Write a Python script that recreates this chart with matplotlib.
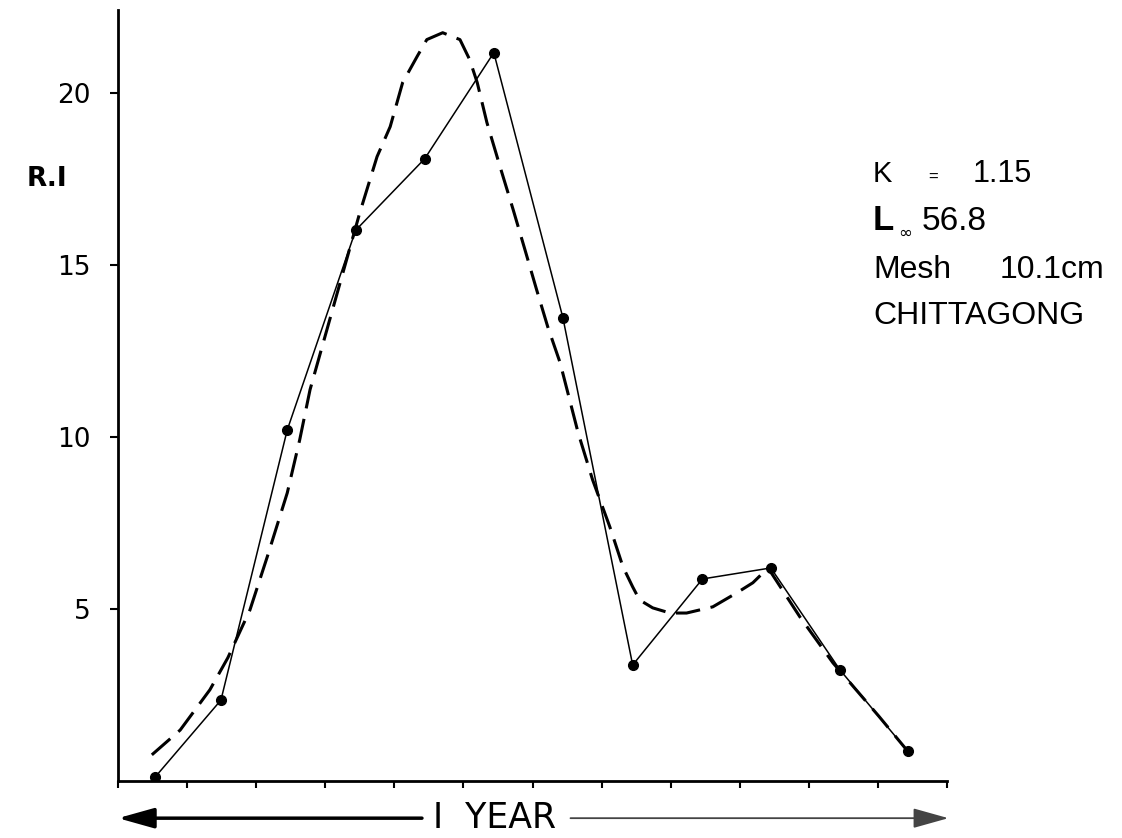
import matplotlib
matplotlib.use("Agg")
import matplotlib.pyplot as plt

# observed R.I values (one per month)
month_x = [0.54, 1.49, 2.45, 3.44, 4.44, 5.44, 6.44, 7.45, 8.46, 9.45, 10.45, 11.43]
ri_obs = [0.12, 2.35, 10.2, 16.0, 18.08, 21.16, 13.46, 3.37, 5.87, 6.19, 3.23, 0.87]

# fitted curve
fit_x = [0.49, 0.90, 1.33, 1.59, 1.91, 2.16, 2.45, 2.63, 2.78, 3.50, 3.75, 3.94,
         4.12, 4.33, 4.47, 4.70, 4.95, 5.09, 5.20, 5.34, 5.53, 5.72, 5.89, 6.06,
         6.22, 6.40, 6.66, 6.87, 7.12, 7.31, 7.45, 7.55, 7.74, 7.99, 8.23, 8.61,
         8.96, 9.19, 9.41, 9.87, 10.35, 11.01, 11.43]
fit_y = [0.76, 1.48, 2.65, 3.58, 4.97, 6.51, 8.37, 9.91, 11.37, 16.51, 18.14, 19.01,
         20.29, 21.05, 21.54, 21.74, 21.54, 20.96, 20.29, 19.13, 17.85, 16.60, 15.44, 14.27,
         13.20, 12.15, 10.12, 8.75, 7.38, 6.22, 5.64, 5.26, 5.03, 4.88, 4.88, 5.06,
         5.47, 5.76, 6.19, 4.77, 3.43, 1.89, 0.87]

y_ticks = [5, 10, 15, 20]
x_ticks = list(range(13))

W, H = 1122, 838


def main():
    fig = plt.figure(figsize=(W / 100, H / 100), dpi=100)
    ax = fig.add_axes([118 / W, (H - 781) / H, 829 / W, 771 / H])

    ax.plot(fit_x, fit_y, color="black", lw=2.2, dashes=(8, 3.5), solid_capstyle="butt")
    ax.plot(month_x, ri_obs, color="black", lw=1.1, marker="o", markersize=7)

    ax.set_xlim(0, 12)
    ax.set_ylim(0, 22.4)
    for side in ("top", "right"):
        ax.spines[side].set_visible(False)
    for side in ("left", "bottom"):
        ax.spines[side].set_linewidth(2)

    ax.set_yticks(y_ticks)
    ax.set_yticklabels([str(v) for v in y_ticks], fontsize=19)
    ax.set_xticks(x_ticks)
    ax.set_xticklabels([])
    ax.tick_params(axis="y", direction="out", length=6, width=1.5, pad=14)
    ax.tick_params(axis="x", direction="out", length=5, width=1.5)

    fig.text(47 / W, 1 - 186 / H, "R.I", fontsize=19, weight="semibold",
             ha="center", va="baseline")

    # "1 YEAR" arrow under the axis
    yy = -1.08
    ax.annotate("", xy=(0, yy), xytext=(4.4, yy), annotation_clip=False,
                arrowprops=dict(arrowstyle="-|>,head_length=1.0,head_width=0.28",
                                mutation_scale=22, lw=2.5, color="black",
                                shrinkA=0, shrinkB=0))
    ax.annotate("", xy=(12.02, yy), xytext=(6.55, yy), annotation_clip=False,
                arrowprops=dict(arrowstyle="-|>,head_length=1.0,head_width=0.28",
                                mutation_scale=22, lw=1.3, color="#444444",
                                shrinkA=0, shrinkB=0))
    ax.text(5.45, yy, "I  YEAR", fontsize=25, ha="center", va="center", clip_on=False)

    # parameter block
    lib = "Liberation Sans"
    fig.text(873 / W, 1 - 182 / H, "K", fontsize=21, family=lib, va="baseline")
    fig.text(928 / W, 1 - 182 / H, "=", fontsize=12, family=lib, va="baseline")
    fig.text(973 / W, 1 - 182 / H, "1.15", fontsize=22, family=lib, va="baseline")
    fig.text(873 / W, 1 - 230 / H, "L", fontsize=25, family=lib, weight="bold", va="baseline")
    fig.text(898 / W, 1 - 238 / H, "\u221e", fontsize=12, family="DejaVu Sans", va="baseline")
    fig.text(922 / W, 1 - 230 / H, "56.8", fontsize=24, family=lib, va="baseline")
    fig.text(873 / W, 1 - 278 / H, "Mesh", fontsize=23, family=lib, va="baseline")
    fig.text(1000 / W, 1 - 278 / H, "10.1cm", fontsize=23, family=lib, va="baseline")
    fig.text(873 / W, 1 - 324 / H, "CHITTAGONG", fontsize=23, family=lib, va="baseline")

    fig.savefig("out.png", dpi=100)


if __name__ == "__main__":
    main()
